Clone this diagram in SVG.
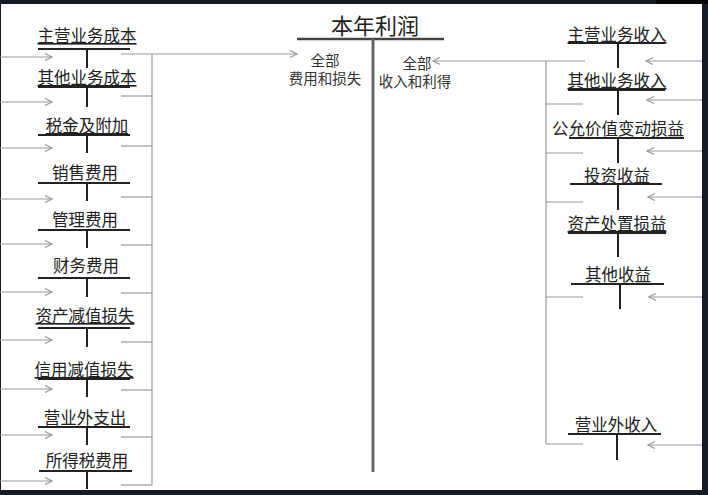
<svg xmlns="http://www.w3.org/2000/svg" width="708" height="495" viewBox="0 0 708 495">
<defs>
<style>
.t{font-family:"Liberation Sans","Noto Sans CJK SC",sans-serif;fill:#222;text-anchor:middle;font-size:16.5px}
.u{text-decoration:underline}
.s{font-size:14.5px;fill:#333}
.bar{stroke:#222;stroke-width:2}
.c{stroke:#9a9a9a;stroke-width:1.2;fill:none}
.a{stroke:#9a9a9a;stroke-width:1.2;fill:none;marker-end:url(#ah)}
</style>
<marker id="ah" markerUnits="userSpaceOnUse" markerWidth="10" markerHeight="10" refX="9" refY="5" orient="auto">
<path d="M2,1.5 L9,5 L2,8.5" fill="none" stroke="#9a9a9a" stroke-width="1.2"/>
</marker>
</defs>
<rect width="708" height="495" fill="#151b25"/>
<rect x="656" y="0" width="52" height="4" fill="#050608"/>
<rect x="1" y="4" width="701" height="486" fill="#ffffff"/>

<g id="center">
<text class="t" x="375" y="34" style="font-size:22px">本年利润</text>
<line x1="297" y1="39" x2="444" y2="39" stroke="#444" stroke-width="2.5"/>
<line x1="373" y1="39" x2="373" y2="472" stroke="#666" stroke-width="3"/>
<text class="t s" x="325" y="66">全部</text>
<text class="t s" x="325" y="84">费用和损失</text>
<text class="t s" x="417" y="69">全部</text>
<text class="t s" x="415" y="87">收入和利得</text>
</g>

<g id="n-l1"><text class="t u" x="87" y="42">主营业务成本</text><line class="bar" x1="38" y1="49" x2="130" y2="49"/><line class="bar" x1="87" y1="49" x2="87" y2="68"/></g>
<g id="n-l2"><text class="t u" x="87" y="84">其他业务成本</text><line class="bar" x1="38" y1="87" x2="130" y2="87"/><line class="bar" x1="87" y1="87" x2="87" y2="107"/></g>
<g id="n-l3"><text class="t u" x="87" y="132">税金及附加</text><line class="bar" x1="38" y1="135" x2="130" y2="135"/><line class="bar" x1="87" y1="135" x2="87" y2="153"/></g>
<g id="n-l4"><text class="t" x="85" y="179">销售费用</text><line class="bar" x1="38" y1="183" x2="130" y2="183"/><line class="bar" x1="87" y1="183" x2="87" y2="201"/></g>
<g id="n-l5"><text class="t" x="85" y="226">管理费用</text><line class="bar" x1="38" y1="230" x2="130" y2="230"/><line class="bar" x1="87" y1="230" x2="87" y2="248"/></g>
<g id="n-l6"><text class="t" x="86" y="272">财务费用</text><line class="bar" x1="38" y1="278" x2="130" y2="278"/><line class="bar" x1="87" y1="278" x2="87" y2="297"/></g>
<g id="n-l7"><text class="t u" x="85" y="322">资产减值损失</text><line class="bar" x1="38" y1="328" x2="130" y2="328"/><line class="bar" x1="87" y1="328" x2="87" y2="347"/></g>
<g id="n-l8"><text class="t u" x="84" y="376">信用减值损失</text><line class="bar" x1="38" y1="379" x2="130" y2="379"/><line class="bar" x1="87" y1="379" x2="87" y2="397"/></g>
<g id="n-l9"><text class="t" x="85" y="424">营业外支出</text><line class="bar" x1="38" y1="427" x2="130" y2="427"/><line class="bar" x1="87" y1="427" x2="87" y2="445"/></g>
<g id="n-l10"><text class="t" x="87" y="467">所得税费用</text><line class="bar" x1="39" y1="471" x2="132" y2="471"/><line class="bar" x1="87" y1="471" x2="87" y2="489"/></g>

<g id="n-r1"><text class="t u" x="617" y="41">主营业务收入</text><line class="bar" x1="568" y1="43" x2="665" y2="43"/><line class="bar" x1="618" y1="43" x2="618" y2="68"/></g>
<g id="n-r2"><text class="t u" x="617" y="87">其他业务收入</text><line class="bar" x1="568" y1="90" x2="665" y2="90"/><line class="bar" x1="618" y1="90" x2="618" y2="115"/></g>
<g id="n-r3"><text class="t" x="618" y="135">公允价值变动损益</text><line class="bar" x1="569" y1="138" x2="684" y2="138"/><line class="bar" x1="618" y1="138" x2="618" y2="163"/></g>
<g id="n-r4"><text class="t" x="617" y="182">投资收益</text><line class="bar" x1="570" y1="184" x2="662" y2="184"/><line class="bar" x1="618" y1="184" x2="618" y2="210"/></g>
<g id="n-r5"><text class="t u" x="617" y="230">资产处置损益</text><line class="bar" x1="568" y1="233" x2="666" y2="233"/><line class="bar" x1="618" y1="233" x2="618" y2="257"/></g>
<g id="n-r6"><text class="t" x="618" y="281">其他收益</text><line class="bar" x1="571" y1="284" x2="664" y2="284"/><line class="bar" x1="620" y1="284" x2="620" y2="309"/></g>
<g id="n-r7"><text class="t" x="616" y="431">营业外收入</text><line class="bar" x1="568" y1="434" x2="661" y2="434"/><line class="bar" x1="617" y1="434" x2="617" y2="460"/></g>

<g id="connectors">
<line class="a" x1="0" y1="57" x2="52" y2="57"/>
<line class="a" x1="0" y1="102" x2="52" y2="102"/>
<line class="a" x1="0" y1="148" x2="52" y2="148"/>
<line class="a" x1="0" y1="199" x2="52" y2="199"/>
<line class="a" x1="0" y1="244" x2="52" y2="244"/>
<line class="a" x1="0" y1="292" x2="52" y2="292"/>
<line class="a" x1="0" y1="340" x2="52" y2="340"/>
<line class="a" x1="0" y1="389" x2="52" y2="389"/>
<line class="a" x1="0" y1="435" x2="52" y2="435"/>
<line class="a" x1="0" y1="481" x2="52" y2="481"/>
<line class="c" x1="152" y1="54" x2="152" y2="485"/>
<line class="a" x1="121" y1="54" x2="297" y2="54"/>
<line class="c" x1="121" y1="96" x2="152" y2="96"/>
<line class="c" x1="121" y1="146" x2="152" y2="146"/>
<line class="c" x1="121" y1="197" x2="152" y2="197"/>
<line class="c" x1="121" y1="245" x2="152" y2="245"/>
<line class="c" x1="121" y1="293" x2="152" y2="293"/>
<line class="c" x1="121" y1="342" x2="152" y2="342"/>
<line class="c" x1="121" y1="390" x2="152" y2="390"/>
<line class="c" x1="121" y1="437" x2="152" y2="437"/>
<line class="c" x1="121" y1="485" x2="152" y2="485"/>
<line class="a" x1="702" y1="61" x2="646" y2="61"/>
<line class="a" x1="702" y1="100" x2="647" y2="100"/>
<line class="a" x1="702" y1="151" x2="647" y2="151"/>
<line class="a" x1="702" y1="197" x2="648" y2="197"/>
<line class="a" x1="702" y1="297" x2="649" y2="297"/>
<line class="a" x1="702" y1="445" x2="648" y2="445"/>
<line class="c" x1="546" y1="61" x2="546" y2="444"/>
<line class="a" x1="585" y1="61" x2="433" y2="61"/>
<line class="c" x1="546" y1="104" x2="583" y2="104"/>
<line class="c" x1="546" y1="153" x2="583" y2="153"/>
<line class="c" x1="546" y1="202" x2="583" y2="202"/>
<line class="c" x1="546" y1="297" x2="583" y2="297"/>
<line class="c" x1="546" y1="444" x2="583" y2="444"/>
</g>
</svg>
